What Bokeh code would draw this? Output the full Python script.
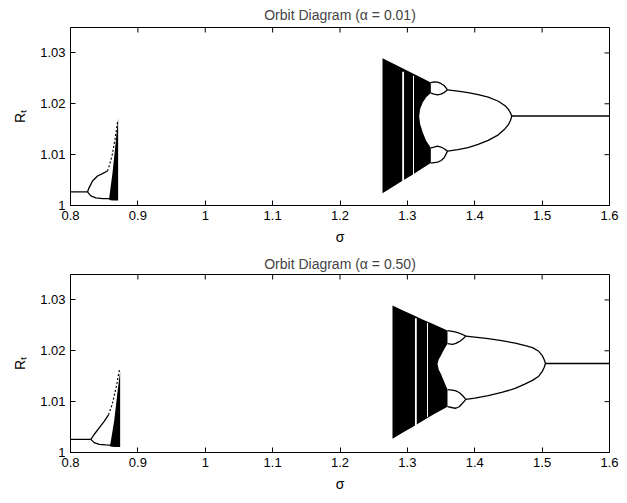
import math
from bokeh.plotting import figure
from bokeh.layouts import column
from bokeh.models import Range1d, FixedTicker, CustomJSTickFormatter
from bokeh.embed import file_html
from bokeh.resources import INLINE

FONT = "Liberation Sans"

x_ticks = [0.8, 0.9, 1.0, 1.1, 1.2, 1.3, 1.4, 1.5, 1.6]
y_ticks = [1.0, 1.01, 1.02, 1.03]
x_lim = [0.8, 1.6]
y_lim = [1.0, 1.035]

# ---------------- Panel A : alpha = 0.01 ----------------
a_title = "Orbit Diagram (\u03b1 = 0.01)"
a_p1l_s = [0.800, 0.8252]
a_p1l_r = [1.00267, 1.00267]
a_up_s = [0.8252, 0.8277, 0.8327, 0.8401, 0.8475, 0.8549]
a_up_r = [1.00267, 1.00352, 1.00482, 1.00580, 1.00626, 1.00678]
a_lo_s = [0.8252, 0.8302, 0.8376, 0.8475, 0.8574, 0.8623]
a_lo_r = [1.00267, 1.00189, 1.00150, 1.00137, 1.00137, 1.00124]
a_dot_s = [0.8549, 0.8580, 0.8620, 0.8660, 0.8700]
a_dot_r = [1.00678, 1.0080, 1.0100, 1.0130, 1.0165]
a_tri_s = [0.8575, 0.8625, 0.8665, 0.8707]
a_tri_lo = [1.0011, 1.0010, 1.0010, 1.0010]
a_tri_hi = [1.0015, 1.0066, 1.0117, 1.0172]

a_ch_s = [1.2631, 1.2780, 1.2928, 1.3076, 1.3225, 1.3348]
a_ch_hi = [1.02894, 1.02796, 1.02699, 1.02601, 1.02503, 1.02418]
a_ch_lo = [1.00241, 1.00365, 1.00489, 1.00606, 1.00730, 1.00834]
a_wd_s = [1.3175, 1.3190, 1.3230, 1.3280, 1.3348, 1.3365]
a_wd_hi = [1.0175, 1.0190, 1.0203, 1.0213, 1.0221, 1.0221]
a_wd_lo = [1.0175, 1.0160, 1.0143, 1.0127, 1.01134, 1.01134]
a_st_s = [1.2937, 1.3091]
a_st_lo = [1.0045, 1.0060]
a_st_hi = [1.0263, 1.0255]
a_st_w = [1.8, 1.0]
a_b4_s = [1.3348, 1.3398, 1.3447, 1.3497, 1.3546, 1.3596]
a_b4u_top = [1.02418, 1.02430, 1.02425, 1.02400, 1.02360, 1.02275]
a_b4u_bot = [1.02210, 1.02190, 1.02177, 1.02190, 1.02220, 1.02275]
a_b4l_top = [1.01134, 1.01150, 1.01167, 1.01150, 1.01115, 1.01069]
a_b4l_bot = [1.00834, 1.00845, 1.00854, 1.00880, 1.00939, 1.01069]
a_p2_s = [1.3596, 1.375, 1.39, 1.405, 1.42, 1.435, 1.445, 1.45, 1.453, 1.455]
a_p2_hi = [1.02275, 1.0225, 1.0222, 1.0218, 1.0213, 1.0205, 1.0196, 1.0189, 1.0182, 1.0176]
a_p2_lo = [1.01069, 1.0110, 1.0114, 1.0120, 1.0128, 1.0139, 1.0151, 1.0159, 1.0167, 1.0176]
a_p1r_s = [1.455, 1.6]
a_p1r_r = [1.0176, 1.0176]

# ---------------- Panel B : alpha = 0.50 ----------------
b_title = "Orbit Diagram (\u03b1 = 0.50)"
b_p1l_s = [0.800, 0.8302]
b_p1l_r = [1.00258, 1.00258]
b_up_s = [0.8302, 0.8351, 0.8426, 0.8500, 0.8564]
b_up_r = [1.00258, 1.00354, 1.00483, 1.00612, 1.00741]
b_lo_s = [0.8302, 0.8351, 0.8426, 0.8525, 0.8623]
b_lo_r = [1.00258, 1.00194, 1.00161, 1.00148, 1.00142]
b_dot_s = [0.8564, 0.8620, 0.8680, 0.8730]
b_dot_r = [1.00741, 1.0095, 1.0130, 1.0165]
b_tri_s = [0.8590, 0.8650, 0.8700, 0.8737]
b_tri_lo = [1.0012, 1.0011, 1.0011, 1.0011]
b_tri_hi = [1.0015, 1.0064, 1.0122, 1.0160]

b_ch_s = [1.27792, 1.29277, 1.30761, 1.32245, 1.33730, 1.35214, 1.35955]
b_ch_hi = [1.02888, 1.02798, 1.02707, 1.02617, 1.02533, 1.02443, 1.02398]
b_ch_lo = [1.00271, 1.00387, 1.00503, 1.00619, 1.00735, 1.00845, 1.00902]
b_wd_s = [1.34471, 1.3465, 1.34966, 1.35461, 1.35955, 1.3612]
b_wd_hi = [1.0174, 1.0183, 1.0190, 1.0203, 1.0214, 1.0214]
b_wd_lo = [1.0174, 1.0163, 1.0155, 1.0139, 1.0124, 1.0124]
b_st_s = [1.3126, 1.3299]
b_st_lo = [1.0052, 1.0070]
b_st_hi = [1.0264, 1.0255]
b_st_w = [1.8, 1.0]
b_b4_s = [1.35955, 1.36698, 1.37193, 1.37688, 1.38182, 1.38677]
b_b4u_top = [1.02398, 1.02380, 1.02366, 1.02345, 1.02321, 1.02288]
b_b4u_bot = [1.02140, 1.02127, 1.02145, 1.02179, 1.02225, 1.02288]
b_b4l_top = [1.01238, 1.01225, 1.01210, 1.01180, 1.01120, 1.01044]
b_b4l_bot = [1.00902, 1.00880, 1.00870, 1.00900, 1.00967, 1.01044]
b_p2_s = [1.38677, 1.40, 1.42, 1.44, 1.46, 1.475, 1.4857, 1.495, 1.50, 1.503, 1.505]
b_p2_hi = [1.02288, 1.0227, 1.0224, 1.0220, 1.0215, 1.0210, 1.02063, 1.0199, 1.0191, 1.0183, 1.0175]
b_p2_lo = [1.01044, 1.0107, 1.0112, 1.0118, 1.0126, 1.0135, 1.01418, 1.0150, 1.0159, 1.0167, 1.0175]
b_p1r_s = [1.505, 1.6]
b_p1r_r = [1.0175, 1.0175]

fmt_code = "return Number(tick.toFixed(4)).toString();"


def make_panel(d, height, border_top, border_bottom, title_standoff):
    p = figure(width=619, height=height, output_backend="svg", toolbar_location=None,
               x_range=Range1d(*x_lim), y_range=Range1d(*y_lim),
               min_border_left=70, min_border_right=10,
               min_border_top=border_top, min_border_bottom=border_bottom)
    p.title.text = d["title"]
    p.title.align = "center"
    p.title.text_font = FONT
    p.title.text_font_size = "14px"
    p.title.text_font_style = "normal"
    p.title.standoff = title_standoff
    p.xgrid.visible = False
    p.ygrid.visible = False
    p.outline_line_color = "black"
    p.outline_line_width = 1
    p.background_fill_color = "white"
    p.border_fill_color = "white"

    xa = p.xaxis[0]
    ya = p.yaxis[0]
    for ax, tk in ((xa, x_ticks), (ya, y_ticks)):
        ax.ticker = FixedTicker(ticks=tk)
        ax.formatter = CustomJSTickFormatter(code=fmt_code)
        ax.major_tick_in = 5
        ax.major_tick_out = 0
        ax.minor_tick_line_color = None
        ax.axis_line_color = "black"
        ax.major_tick_line_color = "black"
        ax.major_label_text_font = FONT
        ax.major_label_text_font_size = "13px"
        ax.major_label_text_color = "black"
        ax.axis_label_text_font = FONT
        ax.axis_label_text_font_size = "14px"
        ax.axis_label_text_font_style = "normal"
        ax.axis_label_text_color = "black"
    xa.axis_label = "\u03c3"
    xa.major_label_standoff = 5
    xa.axis_label_standoff = 6
    ya.axis_label = "R\u209c"
    ya.major_label_standoff = 5
    ya.axis_label_standoff = 9

    # inward ticks on the top and right edges of the box
    p.ray(x=x_ticks, y=[y_lim[1]] * len(x_ticks), length=5, length_units="screen",
          angle=-math.pi / 2, line_color="black", line_width=1)
    p.ray(x=[x_lim[1]] * len(y_ticks), y=y_ticks, length=5, length_units="screen",
          angle=math.pi, line_color="black", line_width=1)

    k = "black"
    lw = 1.3
    # left cascade
    p.line(d["p1l_s"], d["p1l_r"], line_color=k, line_width=lw)
    p.line(d["up_s"], d["up_r"], line_color=k, line_width=lw)
    p.line(d["lo_s"], d["lo_r"], line_color=k, line_width=lw)
    p.line(d["dot_s"], d["dot_r"], line_color=k, line_width=1.2, line_dash="2 2")
    p.varea(x=d["tri_s"], y1=d["tri_lo"], y2=d["tri_hi"], fill_color=k)
    # right cascade: chaotic band
    p.varea(x=d["ch_s"], y1=d["ch_lo"], y2=d["ch_hi"], fill_color=k)
    p.varea(x=d["wd_s"], y1=d["wd_lo"], y2=d["wd_hi"], fill_color="white")
    p.segment(x0=d["st_s"], y0=d["st_lo"], x1=d["st_s"], y1=d["st_hi"],
              line_color="white", line_width=d["st_w"])
    # period-4 bubbles
    for key in ("b4u_top", "b4u_bot", "b4l_top", "b4l_bot"):
        p.line(d["b4_s"], d[key], line_color=k, line_width=lw)
    # period-2 branches and period-1
    p.line(d["p2_s"], d["p2_hi"], line_color=k, line_width=lw)
    p.line(d["p2_s"], d["p2_lo"], line_color=k, line_width=lw)
    p.line(d["p1r_s"], d["p1r_r"], line_color=k, line_width=lw)
    return p


def pack(prefix, g):
    keys = ["p1l_s", "p1l_r", "up_s", "up_r", "lo_s", "lo_r", "dot_s", "dot_r",
            "tri_s", "tri_lo", "tri_hi", "ch_s", "ch_hi", "ch_lo", "wd_s", "wd_hi",
            "wd_lo", "st_s", "st_lo", "st_hi", "st_w", "b4_s", "b4u_top", "b4u_bot",
            "b4l_top", "b4l_bot", "p2_s", "p2_hi", "p2_lo", "p1r_s", "p1r_r", "title"]
    return {k: g[prefix + k] for k in keys}


g = globals()
pA = make_panel(pack("a_", g), 250, 26, 45, 9)
pB = make_panel(pack("b_", g), 245, 21, 43, 6)

layout = column(pA, pB, spacing=0)
open("out.html", "w").write(file_html(layout, INLINE))
